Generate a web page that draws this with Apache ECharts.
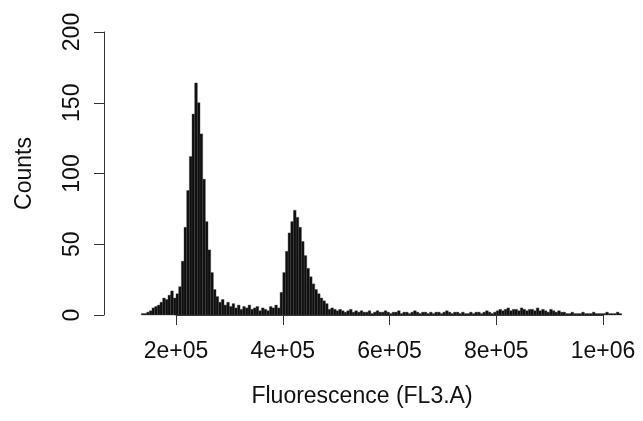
<!DOCTYPE html>
<html>
<head>
<meta charset="utf-8">
<script src="https://cdn.jsdelivr.net/npm/echarts@6/dist/echarts.min.js"></script>
<style>
  html, body { margin: 0; padding: 0; background: #fff; }
  #chart { width: 643px; height: 421px; }
</style>
</head>
<body>
<div id="chart"></div>
<script>
// Histogram bins: first bin edge and bin width (FL3.A units)
var binStart = 135000;
var binWidth = 5000;

// Counts per bin
var counts = [
  1, 1, 2, 3, 5, 6, 7, 9, 12, 11,
  14, 17, 12, 15, 20, 38, 62, 88, 112, 142,
  164, 150, 128, 96, 66, 46, 30, 18, 13, 9,
  11, 7, 9, 6, 8, 5, 7, 4, 6, 5,
  7, 4, 5, 6, 3, 5, 4, 3, 6, 5,
  7, 5, 16, 30, 45, 58, 66, 74, 69, 62,
  52, 42, 33, 27, 22, 18, 15, 12, 10, 8,
  4, 5, 4, 3, 4,
  3, 2, 3, 4, 2, 3, 2, 3, 2, 2, 3, 1, 2, 3, 2, 2, 3, 2, 1, 2,
  2, 3, 1, 2, 2, 1, 2, 3, 2, 1, 2, 2, 1, 2, 1, 2, 2, 1, 2, 3,
  2, 1, 2, 2, 1, 2, 1, 1, 2, 1, 2, 2, 1, 2, 3, 2, 1, 2, 3,
  4, 3, 4, 5, 3, 4, 4, 3, 5, 4, 3, 4, 4, 3, 5, 3, 4, 3, 2, 4, 3, 2, 3, 2,
  2, 1, 1, 2, 1, 1, 1, 2, 1, 1, 1, 2, 1, 1, 1, 1, 2, 1, 1, 1, 2, 1
];

// Tick labels as R prints them
var xTicks = [200000, 400000, 600000, 800000, 1000000];
var xTickLabels = ['2e+05', '4e+05', '6e+05', '8e+05', '1e+06'];
var yTicks = [0, 50, 100, 150, 200];

var chartDom = document.getElementById('chart');
var myChart = echarts.init(chartDom);

// [left edge, right edge, count]
var histData = counts.map(function (c, i) {
  var x0 = binStart + i * binWidth;
  return [x0, x0 + binWidth, c];
});

var font = 'Liberation Sans, Arial, Helvetica, sans-serif';

var option = {
  animation: false,
  backgroundColor: '#fff',
  grid: { left: 176, right: 40, top: 32, bottom: 106 },
  xAxis: {
    type: 'value',
    min: xTicks[0],
    max: xTicks[xTicks.length - 1],
    interval: 200000,
    offset: 12,
    splitLine: { show: false },
    axisLine: { show: true, lineStyle: { color: '#333', width: 1 } },
    axisTick: { show: true, length: 10, lineStyle: { color: '#333' } },
    axisLabel: {
      color: '#111', fontFamily: font, fontSize: 23, margin: 13,
      formatter: function (v) {
        var k = xTicks.indexOf(v);
        return k >= 0 ? xTickLabels[k] : '';
      }
    },
    name: 'Fluorescence (FL3.A)',
    nameLocation: 'middle',
    nameGap: 58,
    nameTextStyle: { color: '#111', fontFamily: font, fontSize: 23, padding: [0, 55, 0, 0] }
  },
  yAxis: {
    type: 'value',
    min: yTicks[0],
    max: yTicks[yTicks.length - 1],
    interval: 50,
    offset: 72,
    splitLine: { show: false },
    axisLine: { show: true, lineStyle: { color: '#333', width: 1 } },
    axisTick: { show: true, length: 10, lineStyle: { color: '#333' } },
    axisLabel: { color: '#111', fontFamily: font, fontSize: 23, rotate: 90, margin: 20 },
    name: 'Counts',
    nameLocation: 'middle',
    nameGap: 68,
    nameTextStyle: { color: '#111', fontFamily: font, fontSize: 23 }
  },
  series: [
    {
      type: 'custom',
      clip: false,
      data: histData,
      encode: { x: [0, 1], y: 2 },
      renderItem: function (params, api) {
        var p0 = api.coord([api.value(0), 0]);
        var p1 = api.coord([api.value(1), api.value(2)]);
        return {
          type: 'rect',
          shape: { x: p0[0], y: p1[1], width: p1[0] - p0[0], height: p0[1] - p1[1] },
          style: { fill: '#0d0d0d', stroke: '#444', lineWidth: 0.4 }
        };
      }
    }
  ]
};

myChart.setOption(option);
</script>
</body>
</html>
